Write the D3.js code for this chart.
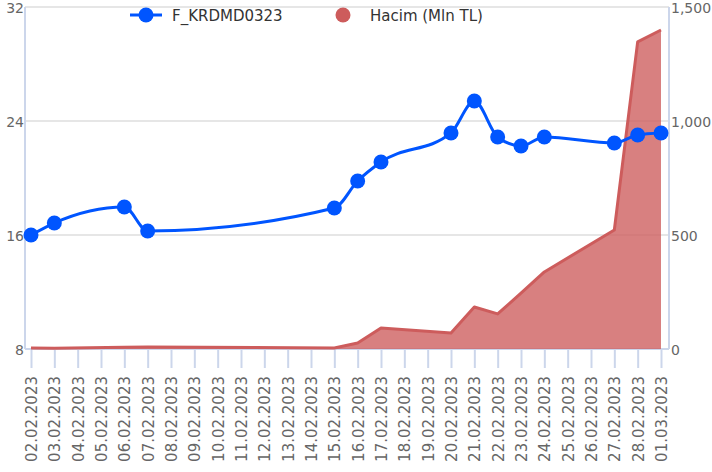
<!DOCTYPE html>
<html>
<head>
<meta charset="utf-8">
<script src="https://cdn.jsdelivr.net/npm/d3@7"></script>
<style>
  body { margin: 0; background: #fff; }
  svg { display: block; font-family: "DejaVu Sans", sans-serif; }
</style>
</head>
<body>
<div id="chart"></div>
<script>
// trading days and values
const dates = ["02.02.2023", "03.02.2023", "06.02.2023", "07.02.2023", "15.02.2023", "16.02.2023",
  "17.02.2023", "20.02.2023", "21.02.2023", "22.02.2023", "23.02.2023", "24.02.2023",
  "27.02.2023", "28.02.2023", "01.03.2023"];
const price = [16.0, 16.84, 17.96, 16.28, 17.89, 19.79, 21.12, 23.16, 25.4, 22.88, 22.25, 22.88, 22.46, 23.02, 23.16];
const volume = [4, 3, 8, 9, 4, 26, 92, 70, 184, 154, 245, 338, 522, 1347, 1399];

const priceTicks = [8, 16, 24, 32];
const volumeTicks = [0, 500, 1000, 1500];

const seriesNames = ["F_KRDMD0323", "Hacim (Mln TL)"];

const width = 712;
const height = 472;
const plotLeft = 25;
const plotRight = 669;
const plotTop = 7;
const plotBottom = 349;

const parse = d3.timeParse("%d.%m.%Y");
const fmt = d3.timeFormat("%d.%m.%Y");
const days = dates.map(parse);

const x = d3.scaleTime()
  .domain([days[0], days[days.length - 1]])
  .range([31, 661]);

const yLeft = d3.scaleLinear().domain([8, 32]).range([plotBottom, plotTop]);
const yRight = d3.scaleLinear().domain([0, 1500]).range([plotBottom, plotTop]);

const svg = d3.select("#chart").append("svg")
  .attr("width", width)
  .attr("height", height);

// horizontal grid
svg.append("g")
  .selectAll("line")
  .data(priceTicks)
  .join("line")
  .attr("x1", plotLeft)
  .attr("x2", plotRight)
  .attr("y1", (d) => yLeft(d))
  .attr("y2", (d) => yLeft(d))
  .attr("stroke", "#e6e6e6")
  .attr("stroke-width", 2);

// side axis lines
[plotLeft, plotRight].forEach((px) => {
  svg.append("line")
    .attr("x1", px).attr("x2", px)
    .attr("y1", plotTop).attr("y2", plotBottom)
    .attr("stroke", "#ccd6eb")
    .attr("stroke-width", 2);
});

// x axis, one tick a day
const xAxis = d3.axisBottom(x)
  .ticks(d3.timeDay.every(1))
  .tickFormat(fmt)
  .tickSize(19)
  .tickPadding(4);

const gx = svg.append("g")
  .attr("transform", `translate(0,${plotBottom})`)
  .call(xAxis);
gx.select(".domain")
  .attr("stroke", "#ccd6eb")
  .attr("stroke-width", 2)
  .attr("d", `M${plotLeft},0H${plotRight}`);
gx.selectAll(".tick line").attr("stroke", "#ccd6eb").attr("stroke-width", 2);
gx.selectAll(".tick text")
  .attr("fill", "#666")
  .style("font-size", "15px")
  .style("font-family", "DejaVu Sans")
  .attr("text-anchor", "end")
  .attr("transform", "rotate(-90)")
  .attr("x", -27)
  .attr("y", 0)
  .attr("dy", "0.36em");

// left labels
svg.append("g")
  .selectAll("text")
  .data(priceTicks)
  .join("text")
  .attr("x", 24)
  .attr("y", (d) => yLeft(d) + 6)
  .attr("text-anchor", "end")
  .attr("fill", "#666")
  .style("font-size", "14px")
  .text((d) => d);

// right labels
svg.append("g")
  .selectAll("text")
  .data(volumeTicks)
  .join("text")
  .attr("x", 671)
  .attr("y", (d) => yRight(d) + 6)
  .attr("fill", "#666")
  .style("font-size", "14px")
  .text((d) => d3.format(",")(d));

// volume area
const area = d3.area()
  .x((d, i) => x(days[i]))
  .y0(yRight(0))
  .y1((d) => yRight(d));

const line = d3.line()
  .x((d, i) => x(days[i]))
  .y((d) => yRight(d));

svg.append("path")
  .datum(volume)
  .attr("d", area)
  .attr("fill", "#cd5c5c")
  .attr("fill-opacity", 0.78);

svg.append("path")
  .datum(volume)
  .attr("d", line)
  .attr("fill", "none")
  .attr("stroke", "#cd5c5c")
  .attr("stroke-width", 3)
  .attr("stroke-linejoin", "round");

// price spline
const spline = d3.line()
  .curve(d3.curveMonotoneX)
  .x((d, i) => x(days[i]))
  .y((d) => yLeft(d));

svg.append("path")
  .datum(price)
  .attr("d", spline)
  .attr("fill", "none")
  .attr("stroke", "#0055ff")
  .attr("stroke-width", 3)
  .attr("stroke-linejoin", "round")
  .attr("stroke-linecap", "round");

svg.append("g")
  .selectAll("circle")
  .data(price)
  .join("circle")
  .attr("cx", (d, i) => x(days[i]))
  .attr("cy", (d) => yLeft(d))
  .attr("r", 7.5)
  .attr("fill", "#0055ff");

// legend
const legend = svg.append("g");
legend.append("line")
  .attr("x1", 130).attr("x2", 162)
  .attr("y1", 15).attr("y2", 15)
  .attr("stroke", "#0055ff")
  .attr("stroke-width", 3);
legend.append("circle")
  .attr("cx", 146).attr("cy", 15).attr("r", 7.5)
  .attr("fill", "#0055ff");
legend.append("text")
  .attr("x", 172).attr("y", 20.5)
  .attr("fill", "#333")
  .style("font-size", "15px")
  .text(seriesNames[0]);
legend.append("circle")
  .attr("cx", 343).attr("cy", 15).attr("r", 7.5)
  .attr("fill", "#cd5c5c");
legend.append("text")
  .attr("x", 370).attr("y", 20.5)
  .attr("fill", "#333")
  .style("font-size", "15px")
  .text(seriesNames[1]);
</script>
</body>
</html>
